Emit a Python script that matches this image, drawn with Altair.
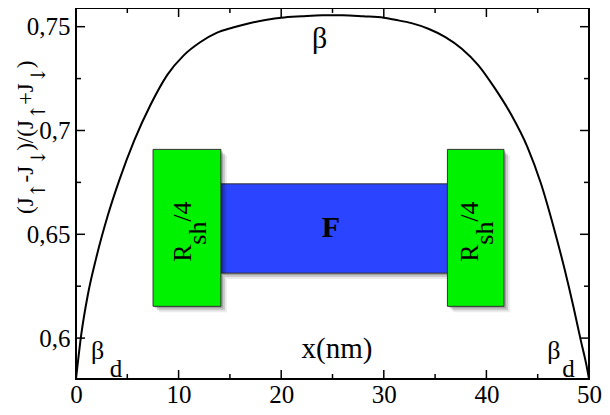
import altair as alt
import pandas as pd

FONT = "Liberation Serif, Times New Roman, DejaVu Serif, serif"
ARROW_FONT = "DejaVu Serif, serif"

# ---- data ----
pos_nm = [0, 0.52, 1.16, 1.96, 3.09, 4.23, 5.68, 7.28, 8.9, 10.5, 12.1, 13.7, 15.3, 16.9,
          18.6, 20, 22, 24, 25, 26, 28, 30, 31.1, 32.7, 34.4, 36.0, 37.6, 39.2, 40.8,
          42.4, 44.0, 45.3, 46.6, 47.6, 48.5, 49.2, 49.75, 50]
polar = [0.5803, 0.602, 0.621, 0.6384, 0.6589, 0.6762, 0.6952, 0.7125, 0.7268, 0.7362,
         0.7425, 0.747, 0.7496, 0.7517, 0.7533, 0.7543, 0.755, 0.7555, 0.7555, 0.7555,
         0.755, 0.7543, 0.7533, 0.7517, 0.7489, 0.745, 0.7394, 0.7315, 0.7205, 0.7078,
         0.692, 0.6747, 0.6526, 0.6336, 0.6147, 0.5989, 0.587, 0.5803]

x_major = [0, 10, 20, 30, 40, 50]
x_minor = [5, 15, 25, 35, 45]
y_major = [0.6, 0.65, 0.7, 0.75]
y_minor = [0.625, 0.675, 0.725]

box_names = ["F", "Rsh_left", "Rsh_right"]
box_x1 = [14.12, 7.51, 36.2]
box_x2 = [36.2, 14.12, 41.71]
box_y1 = [0.6313, 0.6153, 0.6153]
box_y2 = [0.6743, 0.6909, 0.6909]
box_colors = ["#2A44FF", "#00F200", "#00F200"]

W, H = 513, 371
xs = alt.Scale(domain=[0, 50], nice=False, zero=False)
ys = alt.Scale(domain=[0.5803, 0.759], nice=False, zero=False)

AX_X = alt.Axis(values=x_major, title=None, labelFont=FONT, labelFontSize=25,
                labelColor="black", labelPadding=3, domain=False, ticks=False, grid=False,
                labelFlush=False, labelOverlap=False, labelBound=False)
AX_Y = alt.Axis(values=y_major, title=None, labelFont=FONT, labelFontSize=25,
                labelColor="black", labelPadding=6, domain=False, ticks=False, grid=False,
                labelFlush=False, labelOverlap=False, labelBound=False,
                labelExpr="replace(format(datum.value, '.2~f'), '.', ',')")

def X(f):
    return alt.X(f, scale=xs, axis=AX_X)

def Y(f):
    return alt.Y(f, scale=ys, axis=AX_Y)

curve = pd.DataFrame({"x": pos_nm, "y": polar})
boxes = pd.DataFrame({"name": box_names, "x1": box_x1, "x2": box_x2,
                      "y1": box_y1, "y2": box_y2, "c": box_colors})

line = alt.Chart(curve).mark_line(color="black", strokeWidth=2, interpolate="monotone").encode(
    x=X("x:Q"), y=Y("y:Q"))

def ticks_x(vals, ln):
    d = pd.DataFrame({"v": vals})
    b = alt.Chart(d).mark_rule(color="black", strokeWidth=1.5).encode(
        x=X("v:Q"), y=alt.value(H), y2=alt.value(H - ln))
    t = alt.Chart(d).mark_rule(color="black", strokeWidth=1.5).encode(
        x=X("v:Q"), y=alt.value(0), y2=alt.value(ln))
    return [b, t]

def ticks_y(vals, ln):
    d = pd.DataFrame({"v": vals})
    l = alt.Chart(d).mark_rule(color="black", strokeWidth=1.5).encode(
        y=Y("v:Q"), x=alt.value(0), x2=alt.value(ln))
    r = alt.Chart(d).mark_rule(color="black", strokeWidth=1.5).encode(
        y=Y("v:Q"), x=alt.value(W), x2=alt.value(W - ln))
    return [l, r]

tick_layers = ticks_x(x_major, 9) + ticks_x(x_minor, 5) + ticks_y(y_major, 9) + ticks_y(y_minor, 5)

def rects(df, off=0, color=None, opacity=1.0, stroke=None):
    kw = dict(xOffset=off, yOffset=off, x2Offset=off, y2Offset=off, opacity=opacity)
    if stroke:
        kw.update(stroke=stroke, strokeWidth=1)
    m = alt.Chart(df).mark_rect(**kw)
    enc = dict(x=X("x1:Q"), x2="x2:Q", y=Y("y1:Q"), y2="y2:Q")
    if color:
        enc["color"] = alt.value(color)
    else:
        enc["color"] = alt.Color("c:N", scale=None)
    return m.encode(**enc)

blue = boxes[boxes.name == "F"]
greens = boxes[boxes.name != "F"]
box_layers = []
for df in (blue, greens):
    box_layers += [rects(df, 6, "black", 0.08), rects(df, 4, "black", 0.15),
                   rects(df, 2, "black", 0.2), rects(df, 0, None, 1.0, "#333333")]

def txt(x, y, s, size, align="left", baseline="alphabetic", bold=False, angle=0, dx=0, dy=0):
    d = pd.DataFrame({"x": [x], "y": [y], "t": [s]})
    kw = dict(font=FONT, fontSize=size, align=align, baseline=baseline, color="black",
              fontWeight="bold" if bold else "normal", dx=dx, dy=dy)
    if angle:
        kw["angle"] = angle
    return alt.Chart(d).mark_text(**kw).encode(x=X("x:Q"), y=Y("y:Q"), text="t:N")

text_layers = [
    txt(23.74, 0.7395, "β", 30, align="center"),
    txt(1.45, 0.5897, "β", 26), txt(3.29, 0.5815, "d", 25),
    txt(45.94, 0.5897, "β", 26), txt(47.39, 0.5815, "d", 25),
    txt(25.44, 0.5904, "x(nm)", 29, align="center"),
    txt(24.85, 0.6529, "F", 30, align="center", baseline="middle", bold=True),
]
for ax in (11.22, 39.17):
    text_layers += [
        txt(ax, 0.6368, "R", 26, angle=270),
        txt(ax, 0.6368, "sh", 26, angle=270, dx=17, dy=15),
        txt(ax, 0.6368, "/4", 26, angle=270, dx=40),
    ]

# y-axis title built from pieces (subscript arrows)
title_parts = ["(J", "↑", "-J", "↓", ")/(J", "↑", "+J", "↓", ")"]
title_sub = [0, 1, 0, 1, 0, 1, 0, 1, 0]
title_dx = [0, 15.6, 31.6, 48.2, 63.2, 93.9, 108.9, 130.8, 145.8]
dummy = pd.DataFrame({"a": [0]})
title_layers = []
for s, sub, ddx in zip(title_parts, title_sub, title_dx):
    title_layers.append(alt.Chart(dummy).mark_text(
        font=ARROW_FONT if sub else FONT, fontSize=20 if sub else 23, align="left",
        baseline="alphabetic", angle=270, color="black", dx=ddx, dy=12 if sub else 0).encode(
        x=alt.value(-43), y=alt.value(206), text=alt.value(s)))

chart = alt.layer(*box_layers, line, *tick_layers, *text_layers, *title_layers).properties(
    width=W, height=H,
    autosize=alt.AutoSizeParams(type="none"),
    padding={"left": 68, "top": 0, "right": 13, "bottom": 28},
).configure_view(stroke="black", strokeWidth=2)

chart.save("out.html", embed_options={"renderer": "svg", "actions": False})
